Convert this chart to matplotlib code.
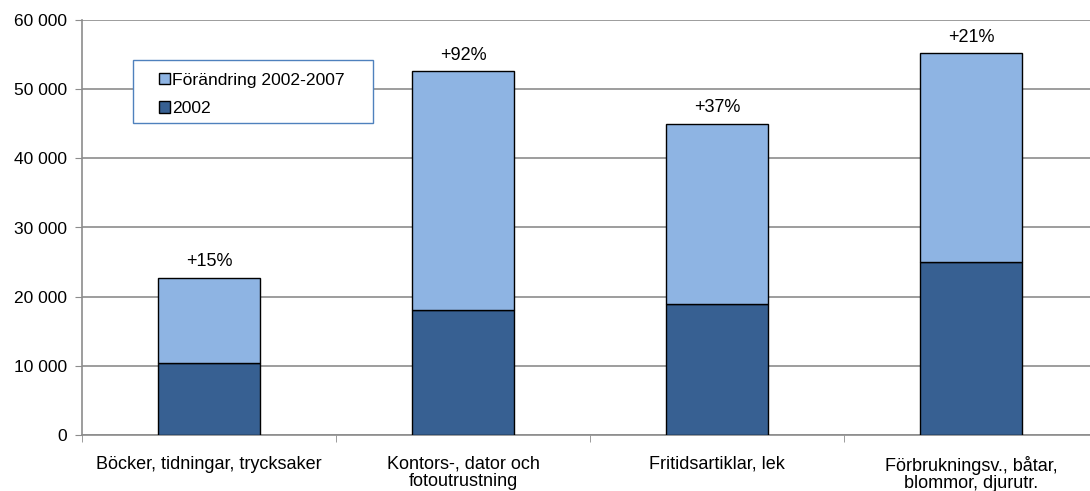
import matplotlib.pyplot as plt
from matplotlib.patches import Rectangle
import numpy as np

categories = ['Böcker, tidningar, trycksaker', 'Kontors-, dator och\nfotoutrustning',
              'Fritidsartiklar, lek', 'Förbrukningsv., båtar,\nblommor, djurutr.']
base_2002 = [10400, 18100, 18900, 25000]
change = [12300, 34500, 26100, 30200]
pct_labels = ['+15%', '+92%', '+37%', '+21%']

plt.rcParams['font.family'] = ['Liberation Sans', 'DejaVu Sans']

W, H = 1090, 491
fig = plt.figure(figsize=(W / 100, H / 100), dpi=100)
ax = fig.add_axes([82 / W, 56 / H, 1016 / W, 415 / H])

x = np.arange(len(categories))
w = 0.405
ax.bar(x, base_2002, w, color='#376092', edgecolor='black', linewidth=1, label='2002', zorder=3)
ax.bar(x, change, w, bottom=base_2002, color='#8EB4E3', edgecolor='black', linewidth=1,
       label='Förändring 2002-2007', zorder=3)

for xi, b, c, t in zip(x, base_2002, change, pct_labels):
    ax.text(xi, b + c + 1100, t, ha='center', va='bottom', fontsize=13)

ax.set_xlim(-0.5, len(categories) - 0.5)
ax.set_ylim(0, 60000)
ax.set_yticks(range(0, 60001, 10000))
ax.set_yticklabels([f'{v:,}'.replace(',', ' ') for v in range(0, 60001, 10000)], fontsize=12.5)
ax.yaxis.grid(True, color='#8c8c8c', linewidth=1.2, zorder=0)

ax.set_xticks(x)
ax.set_xticklabels(categories, fontsize=13, linespacing=0.98)
ax.set_xticks(np.arange(-0.5, len(categories)), minor=True)
ax.tick_params(axis='x', which='major', length=0, pad=15)
ax.tick_params(axis='x', which='minor', length=5, color='#8c8c8c')
ax.tick_params(axis='y', length=5, color='#8c8c8c', pad=6)

for s in ['top', 'right']:
    ax.spines[s].set_visible(False)
for s in ['left', 'bottom']:
    ax.spines[s].set_color('#8c8c8c')
    ax.spines[s].set_linewidth(1.2)

# legend frame drawn separately
fig.patches.append(Rectangle((133 / W, 1 - 123 / H), 240 / W, 63 / H, transform=fig.transFigure,
                             facecolor='white', edgecolor='#4F81BD', linewidth=1, zorder=4))
h, l = ax.get_legend_handles_labels()
leg = fig.legend(h[::-1], l[::-1], loc='upper left', bbox_to_anchor=(150 / W, 1 - 64 / H),
                 fontsize=12.6, frameon=False, handlelength=0.65, handleheight=0.65,
                 handletextpad=0.1, labelspacing=0.75, borderpad=0)
leg.set_zorder(5)

fig.savefig('out.png', dpi=100)
